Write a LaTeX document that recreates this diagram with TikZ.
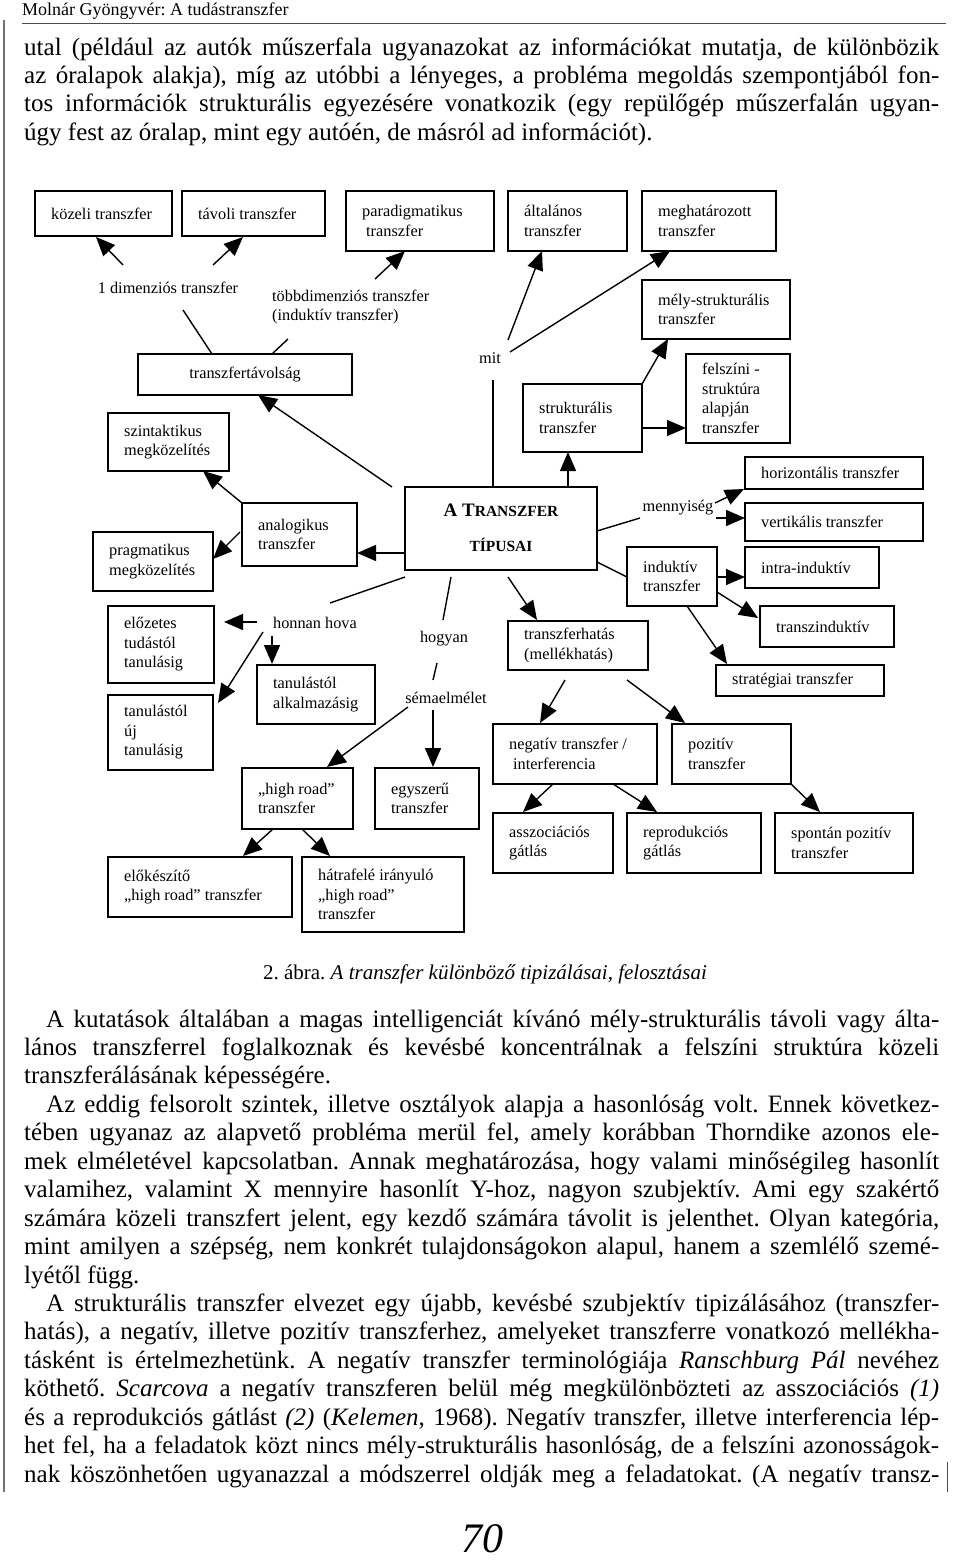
\documentclass[tikz,border=0pt]{standalone}
\usepackage{fontspec}
\setmainfont{Liberation Serif}
\usetikzlibrary{arrows.meta}
\frenchspacing
\newcommand\bx[6]{%
  \pgfmathsetlengthmacro\bxw{#4pt-#2pt}%
  \pgfmathsetlengthmacro\bxh{#5pt-#3pt}%
  \pgfmathsetmacro\bxcx{(#2+#4)/2}%
  \pgfmathsetmacro\bxcy{(#3+#5)/2}%
  \node[bxs, minimum width=\bxw, minimum height=\bxh] (#1) at (\bxcx,\bxcy) {};
  \node[txt, anchor=west] (#1-t) at ([xshift=16pt]#1.west) {#6};}
\newcommand\bxc[6]{%
  \pgfmathsetlengthmacro\bxw{#4pt-#2pt}%
  \pgfmathsetlengthmacro\bxh{#5pt-#3pt}%
  \pgfmathsetmacro\bxcx{(#2+#4)/2}%
  \pgfmathsetmacro\bxcy{(#3+#5)/2}%
  \node[bxs, minimum width=\bxw, minimum height=\bxh] (#1) at (\bxcx,\bxcy) {};
  \node[txt] (#1-t) at (#1.center) {#6};}
\newlength\jlw
\newcommand\jl[5]{\setlength\jlw{#4pt}\node[bodyl] (#1) at (#2,#3) {\hbox to \jlw{\frenchspacing\spaceskip=6.25pt plus 6pt minus 2.2pt\relax #5}};}
\newcommand\nl[4]{\node[bodyl] (#1) at (#2,#3) {#4};}
\begin{document}
\begin{tikzpicture}[x=1pt,y=-1pt,
  bxs/.style={draw, line width=1.5pt, rectangle, inner sep=0pt, outer sep=0pt},
  txt/.style={font=\fontsize{16.3}{19.5}\selectfont, align=left, inner sep=0pt},
  arr/.style={line width=1.4pt, -{Triangle[length=19pt,width=16pt]}},
  ln/.style={line width=1.4pt},
  bodyl/.style={font=\fontsize{25}{28.4}\selectfont, inner sep=0pt, anchor=base west},
  rule/.style={line width=0.9pt, draw=black!70}]
\useasboundingbox (0,0) rectangle (960,1562);
\fill[white] (0,0) rectangle (960,1562);

% header
\node[font=\fontsize{18}{20}\selectfont, inner sep=0pt, anchor=base west] (header) at (22,16) {Molnár Gyöngyvér: A tudástranszfer};
\coordinate (rl) at (22,23);
\coordinate (rr) at (946,23);
\draw[rule] (rl) -- (rr);
\coordinate (vl1) at (4,20);
\coordinate (vl2) at (4,1492);
\draw[rule, line width=1.2pt, draw=black!55] (vl1) -- (vl2);
\coordinate (vr1) at (947,1462);
\coordinate (vr2) at (947,1492);
\draw[rule] (vr1) -- (vr2);

% top paragraph
\jl{p1}{24}{56}{915}{utal (például az autók műszerfala ugyanazokat az információkat mutatja, de különbözik}
\jl{p2}{24}{84}{915}{az óralapok alakja), míg az utóbbi a lényeges, a probléma megoldás szempontjából fon-}
\jl{p3}{24}{112}{915}{tos információk strukturális egyezésére vonatkozik (egy repülőgép műszerfalán ugyan-}
\nl{p4}{24}{141}{úgy fest az óralap, mint egy autóén, de másról ad információt).}

% diagram boxes
\bx{kozeli}{35}{191}{172}{236}{közeli transzfer}
\bx{tavoli}{182}{191}{325}{236}{távoli transzfer}
\bx{parad}{346}{191}{494}{251}{paradigmatikus\\\hspace*{4pt}transzfer}
\bx{altal}{508}{191}{627}{251}{általános\\transzfer}
\bx{meghat}{642}{191}{776}{251}{meghatározott\\transzfer}
\bx{mely}{642}{280}{790}{339}{mély-strukturális\\transzfer}
\bxc{tavolsag}{138}{354}{352}{395}{transzfertávolság}
\bx{szint}{108}{413}{229}{471}{szintaktikus\\megközelítés}
\bx{strukt}{523}{384}{642}{452}{strukturális\\transzfer}
\bx{felszini}{686}{354}{790}{443}{felszíni -\\struktúra\\alapján\\transzfer}
\bx{horiz}{745}{457}{923}{489}{horizontális transzfer}
\bx{analog}{242}{503}{357}{566}{analogikus\\transzfer}
\bx{pragm}{93}{532}{213}{591}{pragmatikus\\megközelítés}
\bx{vertik}{745}{503}{923}{541}{vertikális transzfer}
\bx{intra}{745}{547}{879}{588}{intra-induktív}
\bx{induk}{627}{547}{717}{606}{induktív\\transzfer}
\bx{elozetes}{108}{606}{214}{683}{előzetes\\tudástól\\tanulásig}
\bx{hatas}{508}{621}{648}{670}{transzferhatás\\(mellékhatás)}
\bx{transzind}{760}{606}{894}{647}{transzinduktív}
\bx{strat}{716}{665}{884}{696}{stratégiai transzfer}
\bx{ujtan}{108}{695}{213}{770}{tanulástól\\új\\tanulásig}
\bx{alkalm}{257}{665}{375}{724}{tanulástól\\alkalmazásig}
\bx{negativ}{493}{724}{657}{784}{negatív transzfer /\\\hspace*{4pt}interferencia}
\bx{pozitiv}{672}{724}{791}{784}{pozitív\\transzfer}
\bx{highroad}{242}{768}{353}{829}{„high road”\\transzfer}
\bx{egyszeru}{375}{768}{479}{829}{egyszerű\\transzfer}
\bx{asszoc}{493}{813}{613}{873}{asszociációs\\gátlás}
\bx{reprod}{627}{813}{761}{873}{reprodukciós\\gátlás}
\bx{spontan}{775}{813}{913}{873}{spontán pozitív\\transzfer}
\bx{elokesz}{108}{857}{292}{917}{előkészítő\\„high road” transzfer}
\bx{hatrafele}{302}{857}{464}{932}{hátrafelé irányuló\\„high road”\\transzfer}

% central box
\node[bxs, minimum width=192pt, minimum height=83pt] (tipusai) at (501,528.5) {};
\node[inner sep=0pt, font=\fontsize{19}{22}\selectfont\bfseries] (tipusai-t1) at (501,510) {A T{\fontsize{15.5}{18}\selectfont RANSZFER}};
\node[inner sep=0pt, font=\fontsize{15.5}{18}\selectfont\bfseries] (tipusai-t2) at (501,545) {TÍPUSAI};

% free labels
\node[txt] (dim1) at (168,288) {1 dimenziós transzfer};
\node[txt, anchor=west] (tobb) at (272,307) {többdimenziós transzfer\\(induktív transzfer)};
\node[txt] (mit) at (490,358) {mit};
\node[txt] (menny) at (678,508) {mennyiség};
\node[txt] (honnan) at (315,623) {honnan hova};
\node[txt] (hogyan) at (444,639) {hogyan};
\node[txt] (sema) at (446,698) {sémaelmélet};

% connectors
\draw[arr] ([shift={(-45,-23)}]dim1.center) -- ([shift={(61,46)}]kozeli.north west);
\draw[arr] ([shift={(45,-23)}]dim1.center) -- ([shift={(61,46)}]tavoli.north west);
\draw[arr] ([shift={(103,-28)}]tobb.west) -- ([shift={(59,60)}]parad.north west);
\draw[ln] ([shift={(74,0)}]tavolsag.north west) -- ([shift={(15,22)}]dim1.center);
\draw[ln] ([shift={(134,0)}]tavolsag.north west) -- ([shift={(16,32)}]tobb.west);
\draw[arr] ([shift={(-13,0)}]tipusai.north west) -- ([shift={(120,41)}]tavolsag.north west);
\draw[arr] (analog.north west) -- ([shift={(95,58)}]szint.north west);
\draw[arr] ([shift={(-2,29)}]analog.north west) -- ([shift={(120,27)}]pragm.north west);
\draw[arr] ([shift={(0,66)}]tipusai.north west) -- ([shift={(115,50)}]analog.north west);
\draw[ln] ([shift={(88,0)}]tipusai.north west) -- ([shift={(3,22)}]mit.center);
\draw[arr] ([shift={(18,-18)}]mit.center) -- ([shift={(34,60)}]altal.north west);
\draw[arr] ([shift={(20,-6)}]mit.center) -- ([shift={(28,60)}]meghat.north west);
\draw[arr] ([shift={(163,0)}]tipusai.north west) -- ([shift={(45,68)}]strukt.north west);
\draw[arr] ([shift={(119,0)}]strukt.north west) -- ([shift={(26,59)}]mely.north west);
\draw[arr] ([shift={(119,44)}]strukt.north west) -- ([shift={(0,74)}]felszini.north west);
\draw[ln] ([shift={(192,44)}]tipusai.north west) -- ([shift={(-38,10)}]menny.center);
\draw[arr] ([shift={(37,-5)}]menny.center) -- ([shift={(-1,32)}]horiz.north west);
\draw[arr] ([shift={(38,10)}]menny.center) -- ([shift={(0,15)}]vertik.north west);
\draw[ln] ([shift={(192,75)}]tipusai.north west) -- ([shift={(0,30)}]induk.north west);
\draw[arr] ([shift={(90,30)}]induk.north west) -- ([shift={(0,30)}]intra.north west);
\draw[arr] ([shift={(90,45)}]induk.north west) -- ([shift={(-2,12)}]transzind.north west);
\draw[arr] ([shift={(60,59)}]induk.north west) -- ([shift={(11,-1)}]strat.north west);
\draw[arr] ([shift={(103,90)}]tipusai.north west) -- ([shift={(29,-1)}]hatas.north west);
\draw[arr] ([shift={(57,59)}]hatas.north west) -- ([shift={(47,-1)}]negativ.north west);
\draw[arr] ([shift={(119,59)}]hatas.north west) -- ([shift={(13,-1)}]pozitiv.north west);
\draw[arr] ([shift={(60,60)}]negativ.north west) -- ([shift={(30,-1)}]asszoc.north west);
\draw[arr] ([shift={(120,60)}]negativ.north west) -- ([shift={(30,-1)}]reprod.north west);
\draw[arr] ([shift={(119,60)}]pozitiv.north west) -- ([shift={(45,-1)}]spontan.north west);
\draw[ln] ([shift={(0,90)}]tipusai.north west) -- ([shift={(15,-20)}]honnan.center);
\draw[arr] ([shift={(-58,-1)}]honnan.center) -- ([shift={(116,16)}]elozetes.north west);
\draw[arr] ([shift={(-52,9)}]honnan.center) -- ([shift={(110,8)}]ujtan.north west);
\draw[arr] ([shift={(-43,13)}]honnan.center) -- ([shift={(15,-1)}]alkalm.north west);
\draw[ln] ([shift={(46,90)}]tipusai.north west) -- ([shift={(-1,-19)}]hogyan.center);
\draw[ln] ([shift={(-7,24)}]hogyan.center) -- ([shift={(-13,-18)}]sema.center);
\draw[arr] ([shift={(-38,9)}]sema.center) -- ([shift={(85,-1)}]highroad.north west);
\draw[arr] ([shift={(-13,12)}]sema.center) -- ([shift={(58,-1)}]egyszeru.north west);
\draw[arr] ([shift={(31,61)}]highroad.north west) -- ([shift={(135,-1)}]elokesz.north west);
\draw[arr] ([shift={(60,61)}]highroad.north west) -- ([shift={(28,-1)}]hatrafele.north west);

% caption
\node[font=\fontsize{21}{24}\selectfont, inner sep=0pt, anchor=base] (caption) at (485,979) {2. ábra. \textit{A transzfer különböző tipizálásai, felosztásai}};

% lower text
\jl{q1}{46}{1027}{893}{A kutatások általában a magas intelligenciát kívánó mély-strukturális távoli vagy álta-}
\jl{q2}{24}{1055.4}{915}{lános transzferrel foglalkoznak és kevésbé koncentrálnak a felszíni struktúra közeli}
\nl{q3}{24}{1083.9}{transzferálásának képességére.}
\jl{q4}{46}{1112.3}{893}{Az eddig felsorolt szintek, illetve osztályok alapja a hasonlóság volt. Ennek következ-}
\jl{q5}{24}{1140.8}{915}{tében ugyanaz az alapvető probléma merül fel, amely korábban Thorndike azonos ele-}
\jl{q6}{24}{1169.2}{915}{mek elméletével kapcsolatban. Annak meghatározása, hogy valami minőségileg hasonlít}
\jl{q7}{24}{1197.6}{915}{valamihez, valamint X mennyire hasonlít Y-hoz, nagyon szubjektív. Ami egy szakértő}
\jl{q8}{24}{1226.1}{915}{számára közeli transzfert jelent, egy kezdő számára távolit is jelenthet. Olyan kategória,}
\jl{q9}{24}{1254.5}{915}{mint amilyen a szépség, nem konkrét tulajdonságokon alapul, hanem a szemlélő szemé-}
\nl{q10}{24}{1283}{lyétől függ.}
\jl{q11}{46}{1311.4}{893}{A strukturális transzfer elvezet egy újabb, kevésbé szubjektív tipizálásához (transzfer-}
\jl{q12}{24}{1339.8}{915}{hatás), a negatív, illetve pozitív transzferhez, amelyeket transzferre vonatkozó mellékha-}
\jl{q13}{24}{1368.3}{915}{tásként is értelmezhetünk. A negatív transzfer terminológiája \textit{Ranschburg Pál} nevéhez}
\jl{q14}{24}{1396.7}{915}{köthető. \textit{Scarcova} a negatív transzferen belül még megkülönbözteti az asszociációs \textit{(1)}}
\jl{q15}{24}{1425.2}{915}{és a reprodukciós gátlást \textit{(2)} (\textit{Kelemen}, 1968). Negatív transzfer, illetve interferencia lép-}
\jl{q16}{24}{1453.6}{915}{het fel, ha a feladatok közt nincs mély-strukturális hasonlóság, de a felszíni azonosságok-}
\jl{q17}{24}{1482}{915}{nak köszönhetően ugyanazzal a módszerrel oldják meg a feladatokat. (A negatív transz-}

% page number
\node[font=\fontsize{42}{46}\selectfont\itshape, inner sep=0pt, anchor=base] (pageno) at (482,1552) {70};
\end{tikzpicture}
\end{document}
